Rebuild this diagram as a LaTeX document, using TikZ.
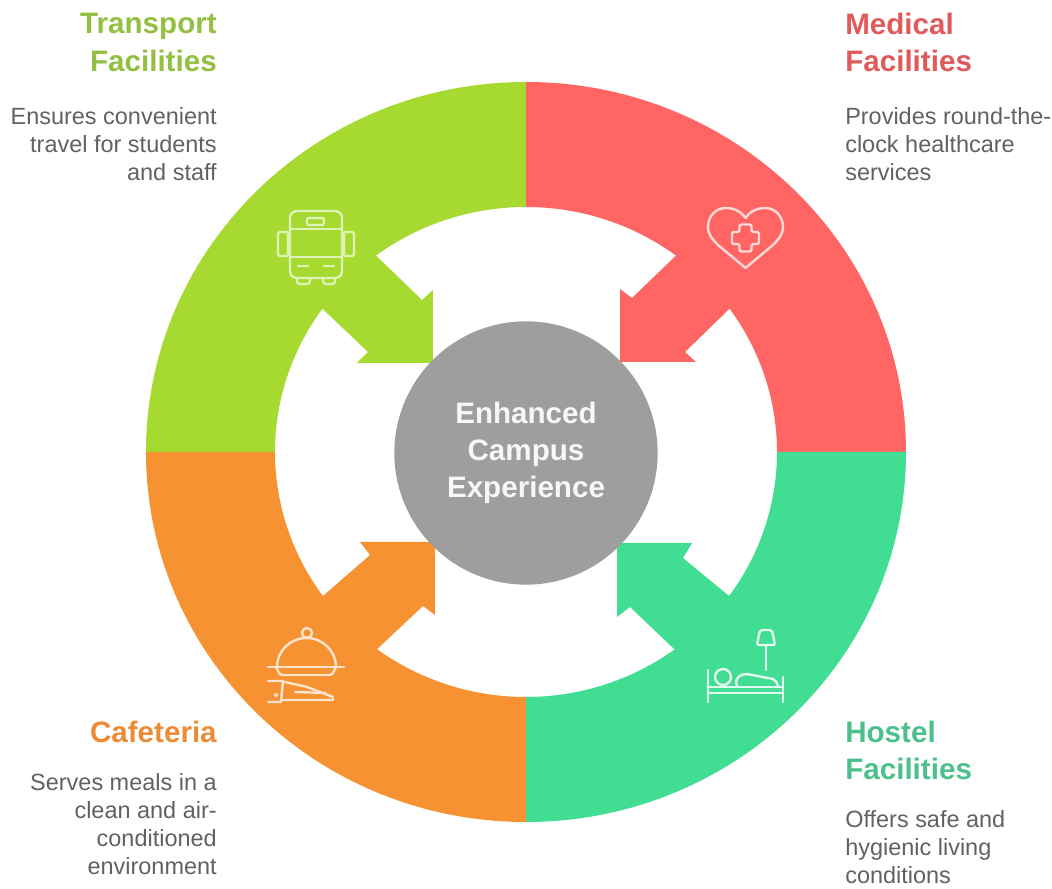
\documentclass[tikz,border=0pt]{standalone}
\usepackage{fontspec}
\setmainfont{Liberation Sans}
\definecolor{transportgreen}{HTML}{A6DA30}
\definecolor{medicalred}{HTML}{FF6663}
\definecolor{cafeorange}{HTML}{F79232}
\definecolor{hostelgreen}{HTML}{40DD92}
\definecolor{hubgrey}{HTML}{9E9E9E}
\definecolor{bodygrey}{HTML}{616161}
\definecolor{transporttext}{HTML}{93BF42}
\definecolor{medicaltext}{HTML}{E15A5A}
\definecolor{cafetext}{HTML}{EC8B36}
\definecolor{hosteltext}{HTML}{4DBF8C}
\tikzset{
  titletext/.style={font=\bfseries\fontsize{22.2}{27.8}\selectfont,inner sep=0pt},
  bodytext/.style={font=\fontsize{17.6}{21}\selectfont,text=bodygrey,inner sep=0pt},
  iconline/.style={line width=1.8pt,line join=round,line cap=round},
}
\begin{document}
\begin{tikzpicture}[x=0.75pt,y=0.75pt]
  \useasboundingbox (-526,-436) rectangle (526,452);

  % Transport sector
  \fill[transportgreen] (0,370) arc[start angle=90,end angle=180,x radius=380,y radius=370]
    -- (-251,0) arc[start angle=180,end angle=144.2,x radius=251,y radius=245]
    -- (-158,100) -- (-169,89) -- (-93,89) -- (-93,162) -- (-104,152)
    -- ({251*cos(126.7)},{245*sin(126.7)})
    arc[start angle=126.7,end angle=90,x radius=251,y radius=245] -- cycle;

  % Medical sector
  \fill[medicalred] (0,370) arc[start angle=90,end angle=0,x radius=380,y radius=370]
    -- (251,0) arc[start angle=0,end angle=35.8,x radius=251,y radius=245]
    -- (159,100) -- (170,90) -- (94,90) -- (94,163) -- (106,154)
    -- ({251*cos(53.3)},{245*sin(53.3)})
    arc[start angle=53.3,end angle=90,x radius=251,y radius=245] -- cycle;

  % Cafeteria sector
  \fill[cafeorange] (0,-370) arc[start angle=270,end angle=180,x radius=380,y radius=370]
    -- (-251,0) arc[start angle=180,end angle=216,x radius=251,y radius=245]
    -- (-156,-103) -- (-166,-90) -- (-91,-90) -- (-91,-163) -- (-103,-154)
    -- ({251*cos(233.6)},{245*sin(233.6)})
    arc[start angle=233.6,end angle=270,x radius=251,y radius=245] -- cycle;

  % Hostel sector
  \fill[hostelgreen] (0,-370) arc[start angle=-90,end angle=0,x radius=380,y radius=370]
    -- (251,0) arc[start angle=0,end angle=-36,x radius=251,y radius=245]
    -- (157,-106) -- (166,-91) -- (91,-91) -- (91,-165) -- (104,-155)
    -- ({251*cos(-53.7)},{245*sin(-53.7)})
    arc[start angle=-53.7,end angle=-90,x radius=251,y radius=245] -- cycle;

  % Hub
  \node[circle,fill=hubgrey,minimum size=197.5pt,inner sep=0pt] (hub) at (0,-1) {};
  \node[text=white!92!hubgrey,font=\bfseries\fontsize{22.2}{28}\selectfont,align=center,
    inner sep=0pt] (hublabel) at (0,-1)
    {Enhanced\\Campus\\Experience};

  % Bus icon
  \begin{scope}[iconline,draw=transportgreen!35!white]
    \draw[rounded corners=5pt] (-236,174) -- (-236,241) -- (-184,241) -- (-184,174) -- cycle;
    \draw (-236,223) -- (-184,223);
    \draw (-236,195) -- (-184,195);
    \draw[rounded corners=1pt] (-219,234) rectangle (-202,227);
    \draw[rounded corners=1.5pt] (-248,220) rectangle (-238,196);
    \draw[rounded corners=1.5pt] (-182,220) rectangle (-172,196);
    \draw (-228,186) -- (-218,186);
    \draw (-202,186) -- (-192,186);
    \draw[rounded corners=2pt] (-229,174) -- (-229,168) -- (-216,168) -- (-216,174);
    \draw[rounded corners=2pt] (-203,174) -- (-203,168) -- (-191,168) -- (-191,174);
  \end{scope}

  % Heart icon
  \begin{scope}[iconline,draw=medicalred!25!white]
    \draw (219.5,234) .. controls (225,242) and (233,244) .. (239,244)
      .. controls (250,244) and (257,235) .. (257,225)
      .. controls (257,217) and (252,212) .. (247,207) -- (219.5,184) -- (192,207)
      .. controls (187,212) and (182,217) .. (182,225)
      .. controls (182,235) and (189,244) .. (200,244)
      .. controls (206,244) and (214,242) .. (219.5,234) -- cycle;
    \draw[rounded corners=1.5pt] (213.5,227.5) -- (225.5,227.5) -- (225.5,220) -- (233,220) -- (233,208)
      -- (225.5,208) -- (225.5,200.5) -- (213.5,200.5) -- (213.5,208) -- (206,208) -- (206,220)
      -- (213.5,220) -- cycle;
  \end{scope}

  % Cloche icon
  \begin{scope}[iconline,draw=cafeorange!25!white]
    \draw (-249,-215) arc[start angle=180,end angle=0,x radius=29.5,y radius=29];
    \draw (-219,-181) circle (5);
    \draw (-258,-215) -- (-182,-215);
    \draw[rounded corners=2pt] (-250,-215) -- (-246,-223) -- (-194,-223) -- (-190,-215);
    \draw (-258,-229) -- (-243,-229) -- (-245,-250) -- (-258,-250);
    \draw (-241,-230) -- (-219,-235) -- (-193,-245) -- (-193,-248) -- (-245,-248);
    \draw (-231,-240) -- (-200,-241);
    \fill[cafeorange!25!white] (-250,-243) circle (2);
  \end{scope}

  % Bed and lamp icon
  \begin{scope}[iconline,draw=hostelgreen!15!white]
    \draw (182,-218) -- (182,-250);
    \draw (257,-225) -- (257,-250);
    \draw (182,-235) -- (257,-235);
    \draw (182,-241) -- (257,-241);
    \draw (197,-225) circle (8);
    \draw (211,-234) .. controls (208,-226) and (214,-222) .. (221,-222)
      -- (247,-227) .. controls (250,-228) and (251,-231) .. (252,-234);
    \draw[rounded corners=1.5pt] (234,-178) -- (246,-178) -- (249,-193) -- (231,-193) -- cycle;
    \draw (240,-193) -- (240,-218);
  \end{scope}

  % Transport text
  \node[titletext,text=transporttext,anchor=east,align=right] (transporttitle) at (-309,409.5)
    {Transport\\Facilities};
  \node[bodytext,anchor=east,align=right] (transportbody) at (-309,308)
    {Ensures convenient\\travel for students\\and staff};

  % Medical text
  \node[titletext,text=medicaltext,anchor=west,align=left] (medicaltitle) at (319,409.5)
    {Medical\\Facilities};
  \node[bodytext,anchor=west,align=left] (medicalbody) at (319,308)
    {Provides round-the-\\clock healthcare\\services};

  % Cafeteria text
  \node[titletext,text=cafetext,anchor=east,align=right] (cafetitle) at (-309,-280)
    {Cafeteria};
  \node[bodytext,anchor=east,align=right] (cafebody) at (-309,-372)
    {Serves meals in a\\clean and air-\\conditioned\\environment};

  % Hostel text
  \node[titletext,text=hosteltext,anchor=west,align=left] (hosteltitle) at (319,-298.5)
    {Hostel\\Facilities};
  \node[bodytext,anchor=west,align=left] (hostelbody) at (319,-395)
    {Offers safe and\\hygienic living\\conditions};
\end{tikzpicture}
\end{document}
